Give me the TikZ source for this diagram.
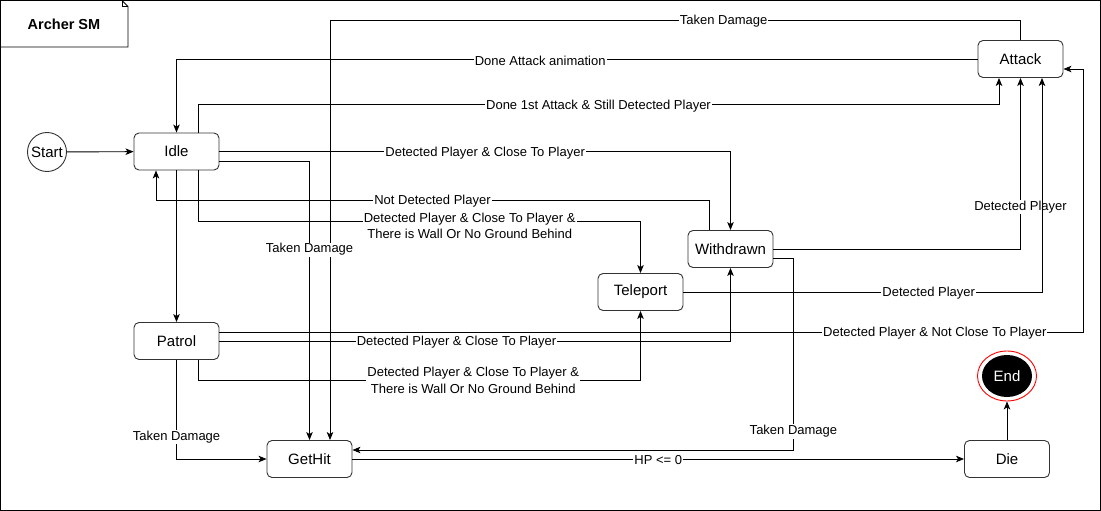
\documentclass[tikz,border=0pt]{standalone}
\usepackage{fontspec}
\setmainfont{Liberation Sans}
\usepackage{tikz}
\usetikzlibrary{arrows.meta,shapes,positioning}

\begin{document}
\begin{tikzpicture}[x=1pt,y=-1pt,line width=0.9pt,
  >={Stealth[length=8pt,width=6.5pt,inset=2pt]},
  every node/.style={font=\fontsize{15}{18}\selectfont},
  snode/.style={rectangle, rounded corners=5pt, draw=black!80, fill=white,
                minimum width=85pt, minimum height=37pt},
  cnode/.style={circle, draw=black!80, inner sep=0pt, minimum size=39pt},
  lnode/.style={fill=white, inner sep=1pt, align=center, yshift=-1.5pt,
                font=\fontsize{13}{16.5}\selectfont}]

\useasboundingbox (0,0) rectangle (1101,511);
\draw (0.5,0.5) rectangle (1100.5,510.5);

% title note
\draw (0.5,0.5) -- (122,0.5) -- (128,6.5) -- (128,47) -- (0.5,47);
\draw (122,0.5) -- (122,6.5) -- (128,6.5);
\node (title) at (64,24.5) {\fontsize{14.5}{17}\selectfont\bfseries Archer SM};

% states
\node (start) [cnode] at (47,152) {Start};
\node (idle) [snode] at (176.5,151.5) {Idle};
\node (patrol) [snode] at (176.5,341) {Patrol};
\node (gethit) [snode] at (309.5,459) {GetHit};
\node (teleport) [snode] at (640.5,292) {Teleport};
\node (withdrawn) [snode] at (730.5,249) {Withdrawn};
\node (attack) [snode] at (1020.5,59) {Attack};
\node (die) [snode] at (1007,459) {Die};
\node (finishring) [ellipse, draw=red, minimum width=59pt, minimum height=50pt] at (1007,376) {};
\node (finish) [ellipse, fill=black, text=white, inner sep=0pt,
                minimum width=50pt, minimum height=42pt] at (1007,376) {End};

% transitions
\draw [->] (start) -- (idle);
\draw [->] (attack.north) -- ++(0,-20) -| ([xshift=20.5pt]gethit.north)
  node [lnode, pos=0.215] {Taken Damage};
\draw [->] (attack.west) -| (idle.north)
  node [lnode, pos=0.273] {Done Attack animation};
\draw [->] ([xshift=21.5pt]idle.north) -- ++(0,-28) -| ([xshift=-21.5pt]attack.south)
  node [lnode, pos=0.25] {Done 1st Attack \& Still Detected Player};
\draw [->] (idle.east) -| (withdrawn.north)
  node [lnode, pos=0.26] {Detected Player \& Close To Player};
\draw [->] ([yshift=-9.5pt]idle.east) -| (gethit.north)
  node [lnode, pos=0.656] {Taken Damage};
\draw [->] ([xshift=-21.5pt]withdrawn.north) -- ++(0,-30) -| ([xshift=-20.5pt]idle.south)
  node [lnode, pos=0.25] {Not Detected Player};
\draw [->] ([xshift=21.5pt]idle.south) -- ++(0,51) -| (teleport.north)
  node [lnode, pos=0.307, yshift=-3pt] {Detected Player \& Close To Player \&\\There is Wall Or No Ground Behind};
\draw [->] (idle.south) -- (patrol.north);
\draw [->] (withdrawn.east) -| (attack.south)
  node [lnode, pos=0.626] {Detected Player};
\draw [->] ([yshift=-9pt]withdrawn.east) -- ++(20,0) |- ([yshift=9pt]gethit.east)
  node [lnode, pos=0.448] {Taken Damage};
\draw [->] (teleport.east) -| ([xshift=21.5pt]attack.south)
  node [lnode, pos=0.342] {Detected Player};
\draw [->] ([yshift=9pt]patrol.east) -- ++(864,0)
  node [lnode, pos=0.828] {Detected Player \& Not Close To Player}
  |- ([yshift=-10pt]attack.east);
\draw [->] (patrol.east) -| (withdrawn.south)
  node [lnode, pos=0.232] {Detected Player \& Close To Player};
\draw [->] ([xshift=21.5pt]patrol.south) -- ++(0,20) -| (teleport.south)
  node [lnode, pos=0.311, yshift=1pt] {Detected Player \& Close To Player \&\\There is Wall Or No Ground Behind};
\draw [->] (patrol.south) |- (gethit.west)
  node [lnode, pos=0.38] {Taken Damage};
\draw [->] (gethit.east) -- (die.west)
  node [lnode, midway] {HP <= 0};
\draw [->] (die.north) -- (finishring.south);

\end{tikzpicture}
\end{document}
